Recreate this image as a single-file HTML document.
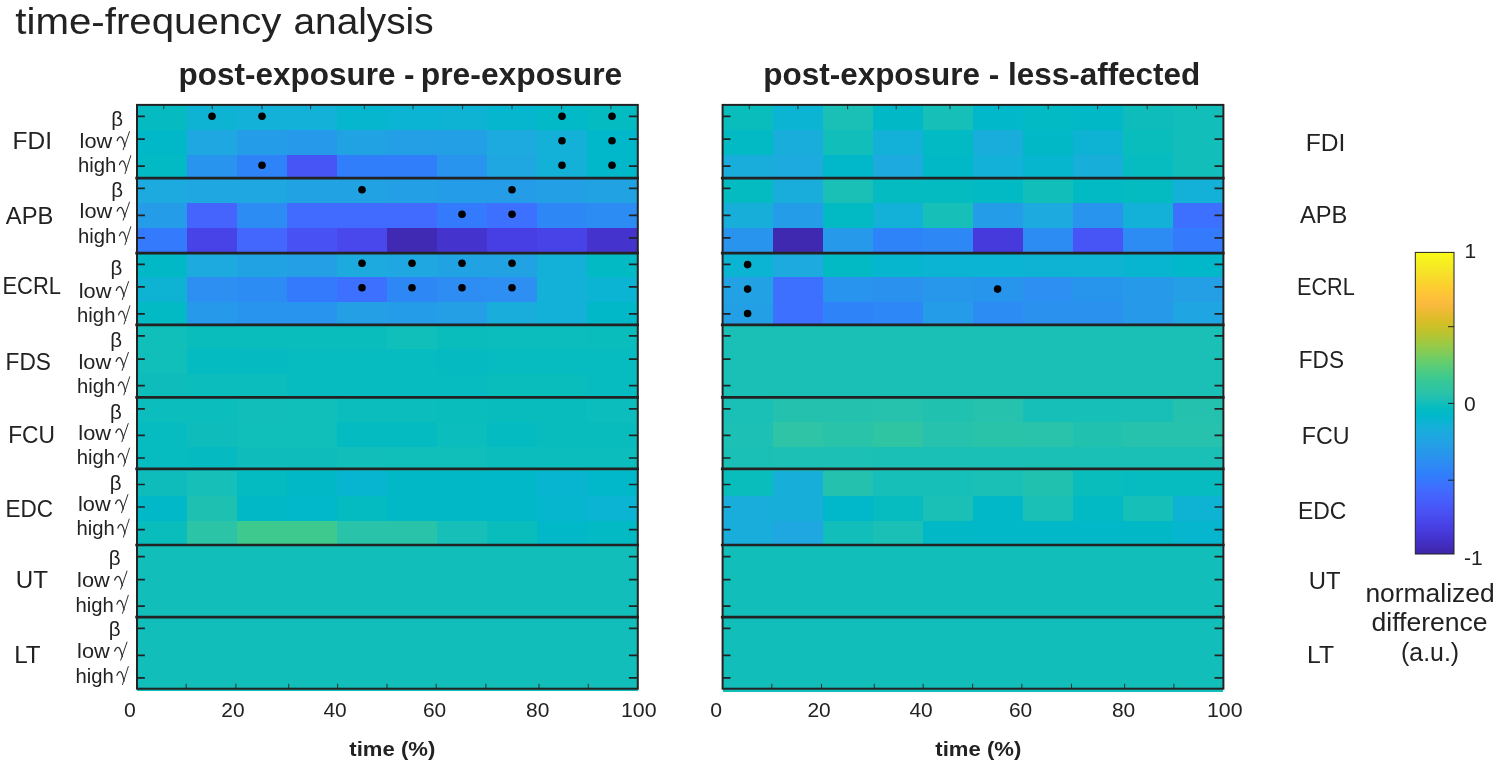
<!DOCTYPE html>
<html><head><meta charset="utf-8"><title>time-frequency analysis</title>
<style>html,body{margin:0;padding:0;background:#fff;overflow:hidden;}svg{display:block;will-change:transform;}text{font-family:"Liberation Sans",sans-serif;fill:#222222;}</style>
</head><body>
<svg width="1498" height="770" viewBox="0 0 1498 770">
<rect x="0" y="0" width="1498" height="770" fill="#ffffff"/>
<g shape-rendering="crispEdges">
<rect x="136.90" y="105.00" width="50.50" height="25.70" fill="#05bbc1"/>
<rect x="186.90" y="105.00" width="50.50" height="25.70" fill="#0eb3d4"/>
<rect x="236.90" y="105.00" width="50.50" height="25.70" fill="#13b0d7"/>
<rect x="286.90" y="105.00" width="50.50" height="25.70" fill="#13b0d7"/>
<rect x="336.90" y="105.00" width="50.50" height="25.70" fill="#05b6ce"/>
<rect x="386.90" y="105.00" width="50.50" height="25.70" fill="#0ab4d2"/>
<rect x="436.90" y="105.00" width="50.50" height="25.70" fill="#0eb3d4"/>
<rect x="486.90" y="105.00" width="50.50" height="25.70" fill="#05b6ce"/>
<rect x="536.90" y="105.00" width="50.50" height="25.70" fill="#01b9c7"/>
<rect x="586.90" y="105.00" width="50.90" height="25.70" fill="#04bbc2"/>
<rect x="136.90" y="130.20" width="50.50" height="25.00" fill="#01b8c8"/>
<rect x="186.90" y="130.20" width="50.50" height="25.00" fill="#1ea7e1"/>
<rect x="236.90" y="130.20" width="50.50" height="25.00" fill="#259ce7"/>
<rect x="286.90" y="130.20" width="50.50" height="25.00" fill="#2699ea"/>
<rect x="336.90" y="130.20" width="50.50" height="25.00" fill="#21a3e3"/>
<rect x="386.90" y="130.20" width="50.50" height="25.00" fill="#249fe6"/>
<rect x="436.90" y="130.20" width="50.50" height="25.00" fill="#23a0e5"/>
<rect x="486.90" y="130.20" width="50.50" height="25.00" fill="#1caadf"/>
<rect x="536.90" y="130.20" width="50.50" height="25.00" fill="#13b0d7"/>
<rect x="586.90" y="130.20" width="50.90" height="25.00" fill="#01b8ca"/>
<rect x="136.90" y="154.70" width="50.50" height="24.60" fill="#02bac4"/>
<rect x="186.90" y="154.70" width="50.50" height="24.60" fill="#2994ed"/>
<rect x="236.90" y="154.70" width="50.50" height="24.60" fill="#2e83f9"/>
<rect x="286.90" y="154.70" width="50.50" height="24.60" fill="#4755f6"/>
<rect x="336.90" y="154.70" width="50.50" height="24.60" fill="#317efb"/>
<rect x="386.90" y="154.70" width="50.50" height="24.60" fill="#317efb"/>
<rect x="436.90" y="154.70" width="50.50" height="24.60" fill="#2994ed"/>
<rect x="486.90" y="154.70" width="50.50" height="24.60" fill="#1ea7e1"/>
<rect x="536.90" y="154.70" width="50.50" height="24.60" fill="#13b0d7"/>
<rect x="586.90" y="154.70" width="50.90" height="24.60" fill="#01b8ca"/>
<rect x="136.90" y="178.80" width="50.50" height="24.90" fill="#1caadf"/>
<rect x="186.90" y="178.80" width="50.50" height="24.90" fill="#1ea7e1"/>
<rect x="236.90" y="178.80" width="50.50" height="24.90" fill="#1ea7e1"/>
<rect x="286.90" y="178.80" width="50.50" height="24.90" fill="#21a3e3"/>
<rect x="336.90" y="178.80" width="50.50" height="24.90" fill="#21a3e3"/>
<rect x="386.90" y="178.80" width="50.50" height="24.90" fill="#23a0e5"/>
<rect x="436.90" y="178.80" width="50.50" height="24.90" fill="#259ce7"/>
<rect x="486.90" y="178.80" width="50.50" height="24.90" fill="#259ce7"/>
<rect x="536.90" y="178.80" width="50.50" height="24.90" fill="#23a0e5"/>
<rect x="586.90" y="178.80" width="50.90" height="24.90" fill="#21a3e3"/>
<rect x="136.90" y="203.20" width="50.50" height="25.10" fill="#259ce7"/>
<rect x="186.90" y="203.20" width="50.50" height="25.10" fill="#4563fd"/>
<rect x="236.90" y="203.20" width="50.50" height="25.10" fill="#2d8cf3"/>
<rect x="286.90" y="203.20" width="50.50" height="25.10" fill="#416bfe"/>
<rect x="336.90" y="203.20" width="50.50" height="25.10" fill="#416bfe"/>
<rect x="386.90" y="203.20" width="50.50" height="25.10" fill="#416bfe"/>
<rect x="436.90" y="203.20" width="50.50" height="25.10" fill="#347afd"/>
<rect x="486.90" y="203.20" width="50.50" height="25.10" fill="#3d70ff"/>
<rect x="536.90" y="203.20" width="50.50" height="25.10" fill="#2d88f6"/>
<rect x="586.90" y="203.20" width="50.90" height="25.10" fill="#2d8cf3"/>
<rect x="136.90" y="227.80" width="50.50" height="25.50" fill="#347afd"/>
<rect x="186.90" y="227.80" width="50.50" height="25.50" fill="#4743e7"/>
<rect x="236.90" y="227.80" width="50.50" height="25.50" fill="#4367fd"/>
<rect x="286.90" y="227.80" width="50.50" height="25.50" fill="#4851f4"/>
<rect x="336.90" y="227.80" width="50.50" height="25.50" fill="#4848ec"/>
<rect x="386.90" y="227.80" width="50.50" height="25.50" fill="#402ab4"/>
<rect x="436.90" y="227.80" width="50.50" height="25.50" fill="#4433cc"/>
<rect x="486.90" y="227.80" width="50.50" height="25.50" fill="#473fe3"/>
<rect x="536.90" y="227.80" width="50.50" height="25.50" fill="#4743e7"/>
<rect x="586.90" y="227.80" width="50.90" height="25.50" fill="#4433cc"/>
<rect x="136.90" y="252.80" width="50.50" height="24.70" fill="#01b9c6"/>
<rect x="186.90" y="252.80" width="50.50" height="24.70" fill="#1caadf"/>
<rect x="236.90" y="252.80" width="50.50" height="24.70" fill="#21a3e3"/>
<rect x="286.90" y="252.80" width="50.50" height="24.70" fill="#249fe6"/>
<rect x="336.90" y="252.80" width="50.50" height="24.70" fill="#1caadf"/>
<rect x="386.90" y="252.80" width="50.50" height="24.70" fill="#1ea7e1"/>
<rect x="436.90" y="252.80" width="50.50" height="24.70" fill="#21a3e3"/>
<rect x="486.90" y="252.80" width="50.50" height="24.70" fill="#21a3e3"/>
<rect x="536.90" y="252.80" width="50.50" height="24.70" fill="#13b0d7"/>
<rect x="586.90" y="252.80" width="50.90" height="24.70" fill="#02bac4"/>
<rect x="136.90" y="277.00" width="50.50" height="25.20" fill="#0eb3d4"/>
<rect x="186.90" y="277.00" width="50.50" height="25.20" fill="#2c8ff1"/>
<rect x="236.90" y="277.00" width="50.50" height="25.20" fill="#2d8cf3"/>
<rect x="286.90" y="277.00" width="50.50" height="25.20" fill="#347afd"/>
<rect x="336.90" y="277.00" width="50.50" height="25.20" fill="#3d70ff"/>
<rect x="386.90" y="277.00" width="50.50" height="25.20" fill="#2d88f6"/>
<rect x="436.90" y="277.00" width="50.50" height="25.20" fill="#2d8df2"/>
<rect x="486.90" y="277.00" width="50.50" height="25.20" fill="#2c8ff1"/>
<rect x="536.90" y="277.00" width="50.50" height="25.20" fill="#13b0d7"/>
<rect x="586.90" y="277.00" width="50.90" height="25.20" fill="#0ab4d2"/>
<rect x="136.90" y="301.70" width="50.50" height="23.90" fill="#02bac4"/>
<rect x="186.90" y="301.70" width="50.50" height="23.90" fill="#2699ea"/>
<rect x="236.90" y="301.70" width="50.50" height="23.90" fill="#2994ed"/>
<rect x="286.90" y="301.70" width="50.50" height="23.90" fill="#2994ed"/>
<rect x="336.90" y="301.70" width="50.50" height="23.90" fill="#249fe6"/>
<rect x="386.90" y="301.70" width="50.50" height="23.90" fill="#259ce7"/>
<rect x="436.90" y="301.70" width="50.50" height="23.90" fill="#249fe6"/>
<rect x="486.90" y="301.70" width="50.50" height="23.90" fill="#19addc"/>
<rect x="536.90" y="301.70" width="50.50" height="23.90" fill="#13b0d7"/>
<rect x="586.90" y="301.70" width="50.90" height="23.90" fill="#01b8c8"/>
<rect x="136.90" y="325.10" width="50.50" height="24.80" fill="#10beba"/>
<rect x="186.90" y="325.10" width="50.50" height="24.80" fill="#0abdbd"/>
<rect x="236.90" y="325.10" width="50.50" height="24.80" fill="#0abdbd"/>
<rect x="286.90" y="325.10" width="50.50" height="24.80" fill="#0abdbd"/>
<rect x="336.90" y="325.10" width="50.50" height="24.80" fill="#0abdbd"/>
<rect x="386.90" y="325.10" width="50.50" height="24.80" fill="#10beba"/>
<rect x="436.90" y="325.10" width="50.50" height="24.80" fill="#0abdbd"/>
<rect x="486.90" y="325.10" width="50.50" height="24.80" fill="#0bbdbc"/>
<rect x="536.90" y="325.10" width="50.50" height="24.80" fill="#0bbdbc"/>
<rect x="586.90" y="325.10" width="50.90" height="24.80" fill="#0abdbd"/>
<rect x="136.90" y="349.40" width="50.50" height="24.70" fill="#10beba"/>
<rect x="186.90" y="349.40" width="50.50" height="24.70" fill="#04bbc2"/>
<rect x="236.90" y="349.40" width="50.50" height="24.70" fill="#05bbc1"/>
<rect x="286.90" y="349.40" width="50.50" height="24.70" fill="#07bcc0"/>
<rect x="336.90" y="349.40" width="50.50" height="24.70" fill="#07bcc0"/>
<rect x="386.90" y="349.40" width="50.50" height="24.70" fill="#07bcc0"/>
<rect x="436.90" y="349.40" width="50.50" height="24.70" fill="#05bbc1"/>
<rect x="486.90" y="349.40" width="50.50" height="24.70" fill="#07bcc0"/>
<rect x="536.90" y="349.40" width="50.50" height="24.70" fill="#07bcc0"/>
<rect x="586.90" y="349.40" width="50.90" height="24.70" fill="#07bcc0"/>
<rect x="136.90" y="373.60" width="50.50" height="24.70" fill="#0ebdbb"/>
<rect x="186.90" y="373.60" width="50.50" height="24.70" fill="#0bbdbc"/>
<rect x="236.90" y="373.60" width="50.50" height="24.70" fill="#0bbdbc"/>
<rect x="286.90" y="373.60" width="50.50" height="24.70" fill="#07bcc0"/>
<rect x="336.90" y="373.60" width="50.50" height="24.70" fill="#07bcc0"/>
<rect x="386.90" y="373.60" width="50.50" height="24.70" fill="#07bcc0"/>
<rect x="436.90" y="373.60" width="50.50" height="24.70" fill="#07bcc0"/>
<rect x="486.90" y="373.60" width="50.50" height="24.70" fill="#0abdbd"/>
<rect x="536.90" y="373.60" width="50.50" height="24.70" fill="#0abdbd"/>
<rect x="586.90" y="373.60" width="50.90" height="24.70" fill="#07bcc0"/>
<rect x="136.90" y="397.80" width="50.50" height="24.90" fill="#0bbdbc"/>
<rect x="186.90" y="397.80" width="50.50" height="24.90" fill="#0bbdbc"/>
<rect x="236.90" y="397.80" width="50.50" height="24.90" fill="#12beb9"/>
<rect x="286.90" y="397.80" width="50.50" height="24.90" fill="#10beba"/>
<rect x="336.90" y="397.80" width="50.50" height="24.90" fill="#0bbdbc"/>
<rect x="386.90" y="397.80" width="50.50" height="24.90" fill="#0bbdbc"/>
<rect x="436.90" y="397.80" width="50.50" height="24.90" fill="#0abdbd"/>
<rect x="486.90" y="397.80" width="50.50" height="24.90" fill="#08bcbe"/>
<rect x="536.90" y="397.80" width="50.50" height="24.90" fill="#08bcbe"/>
<rect x="586.90" y="397.80" width="50.90" height="24.90" fill="#0bbdbc"/>
<rect x="136.90" y="422.20" width="50.50" height="24.90" fill="#07bcc0"/>
<rect x="186.90" y="422.20" width="50.50" height="24.90" fill="#0ebdbb"/>
<rect x="236.90" y="422.20" width="50.50" height="24.90" fill="#10beba"/>
<rect x="286.90" y="422.20" width="50.50" height="24.90" fill="#10beba"/>
<rect x="336.90" y="422.20" width="50.50" height="24.90" fill="#04bbc2"/>
<rect x="386.90" y="422.20" width="50.50" height="24.90" fill="#04bbc2"/>
<rect x="436.90" y="422.20" width="50.50" height="24.90" fill="#0bbdbc"/>
<rect x="486.90" y="422.20" width="50.50" height="24.90" fill="#04bbc2"/>
<rect x="536.90" y="422.20" width="50.50" height="24.90" fill="#08bcbe"/>
<rect x="586.90" y="422.20" width="50.90" height="24.90" fill="#08bcbe"/>
<rect x="136.90" y="446.60" width="50.50" height="24.90" fill="#07bcc0"/>
<rect x="186.90" y="446.60" width="50.50" height="24.90" fill="#05bbc1"/>
<rect x="236.90" y="446.60" width="50.50" height="24.90" fill="#0ebdbb"/>
<rect x="286.90" y="446.60" width="50.50" height="24.90" fill="#0ebdbb"/>
<rect x="336.90" y="446.60" width="50.50" height="24.90" fill="#12beb9"/>
<rect x="386.90" y="446.60" width="50.50" height="24.90" fill="#10beba"/>
<rect x="436.90" y="446.60" width="50.50" height="24.90" fill="#10beba"/>
<rect x="486.90" y="446.60" width="50.50" height="24.90" fill="#0bbdbc"/>
<rect x="536.90" y="446.60" width="50.50" height="24.90" fill="#0bbdbc"/>
<rect x="586.90" y="446.60" width="50.90" height="24.90" fill="#0bbdbc"/>
<rect x="136.90" y="471.00" width="50.50" height="25.90" fill="#0ebdbb"/>
<rect x="186.90" y="471.00" width="50.50" height="25.90" fill="#16bfb7"/>
<rect x="236.90" y="471.00" width="50.50" height="25.90" fill="#04bbc2"/>
<rect x="286.90" y="471.00" width="50.50" height="25.90" fill="#01b9c6"/>
<rect x="336.90" y="471.00" width="50.50" height="25.90" fill="#07b5d0"/>
<rect x="386.90" y="471.00" width="50.50" height="25.90" fill="#01b9c6"/>
<rect x="436.90" y="471.00" width="50.50" height="25.90" fill="#01b9c6"/>
<rect x="486.90" y="471.00" width="50.50" height="25.90" fill="#01b8c8"/>
<rect x="536.90" y="471.00" width="50.50" height="25.90" fill="#07b5d0"/>
<rect x="586.90" y="471.00" width="50.90" height="25.90" fill="#01b8ca"/>
<rect x="136.90" y="496.40" width="50.50" height="25.50" fill="#01b8c8"/>
<rect x="186.90" y="496.40" width="50.50" height="25.50" fill="#1ec0b2"/>
<rect x="236.90" y="496.40" width="50.50" height="25.50" fill="#01b9c6"/>
<rect x="286.90" y="496.40" width="50.50" height="25.50" fill="#01b8ca"/>
<rect x="336.90" y="496.40" width="50.50" height="25.50" fill="#04bbc2"/>
<rect x="386.90" y="496.40" width="50.50" height="25.50" fill="#01b9c6"/>
<rect x="436.90" y="496.40" width="50.50" height="25.50" fill="#01b9c6"/>
<rect x="486.90" y="496.40" width="50.50" height="25.50" fill="#01b8c8"/>
<rect x="536.90" y="496.40" width="50.50" height="25.50" fill="#05b6ce"/>
<rect x="586.90" y="496.40" width="50.90" height="25.50" fill="#0ab4d2"/>
<rect x="136.90" y="521.40" width="50.50" height="24.60" fill="#0abdbd"/>
<rect x="186.90" y="521.40" width="50.50" height="24.60" fill="#2cc4a7"/>
<rect x="236.90" y="521.40" width="50.50" height="24.60" fill="#3eca8f"/>
<rect x="286.90" y="521.40" width="50.50" height="24.60" fill="#3eca8f"/>
<rect x="336.90" y="521.40" width="50.50" height="24.60" fill="#29c3a9"/>
<rect x="386.90" y="521.40" width="50.50" height="24.60" fill="#29c3a9"/>
<rect x="436.90" y="521.40" width="50.50" height="24.60" fill="#16bfb7"/>
<rect x="486.90" y="521.40" width="50.50" height="24.60" fill="#0abdbd"/>
<rect x="536.90" y="521.40" width="50.50" height="24.60" fill="#01b8c8"/>
<rect x="586.90" y="521.40" width="50.90" height="24.60" fill="#02bac4"/>
<rect x="136.90" y="545.50" width="50.50" height="24.50" fill="#12beb9"/>
<rect x="186.90" y="545.50" width="50.50" height="24.50" fill="#12beb9"/>
<rect x="236.90" y="545.50" width="50.50" height="24.50" fill="#12beb9"/>
<rect x="286.90" y="545.50" width="50.50" height="24.50" fill="#12beb9"/>
<rect x="336.90" y="545.50" width="50.50" height="24.50" fill="#12beb9"/>
<rect x="386.90" y="545.50" width="50.50" height="24.50" fill="#12beb9"/>
<rect x="436.90" y="545.50" width="50.50" height="24.50" fill="#12beb9"/>
<rect x="486.90" y="545.50" width="50.50" height="24.50" fill="#12beb9"/>
<rect x="536.90" y="545.50" width="50.50" height="24.50" fill="#12beb9"/>
<rect x="586.90" y="545.50" width="50.90" height="24.50" fill="#12beb9"/>
<rect x="136.90" y="569.50" width="50.50" height="24.50" fill="#12beb9"/>
<rect x="186.90" y="569.50" width="50.50" height="24.50" fill="#12beb9"/>
<rect x="236.90" y="569.50" width="50.50" height="24.50" fill="#12beb9"/>
<rect x="286.90" y="569.50" width="50.50" height="24.50" fill="#12beb9"/>
<rect x="336.90" y="569.50" width="50.50" height="24.50" fill="#12beb9"/>
<rect x="386.90" y="569.50" width="50.50" height="24.50" fill="#12beb9"/>
<rect x="436.90" y="569.50" width="50.50" height="24.50" fill="#12beb9"/>
<rect x="486.90" y="569.50" width="50.50" height="24.50" fill="#12beb9"/>
<rect x="536.90" y="569.50" width="50.50" height="24.50" fill="#12beb9"/>
<rect x="586.90" y="569.50" width="50.90" height="24.50" fill="#12beb9"/>
<rect x="136.90" y="593.50" width="50.50" height="24.50" fill="#12beb9"/>
<rect x="186.90" y="593.50" width="50.50" height="24.50" fill="#12beb9"/>
<rect x="236.90" y="593.50" width="50.50" height="24.50" fill="#12beb9"/>
<rect x="286.90" y="593.50" width="50.50" height="24.50" fill="#12beb9"/>
<rect x="336.90" y="593.50" width="50.50" height="24.50" fill="#12beb9"/>
<rect x="386.90" y="593.50" width="50.50" height="24.50" fill="#12beb9"/>
<rect x="436.90" y="593.50" width="50.50" height="24.50" fill="#12beb9"/>
<rect x="486.90" y="593.50" width="50.50" height="24.50" fill="#12beb9"/>
<rect x="536.90" y="593.50" width="50.50" height="24.50" fill="#12beb9"/>
<rect x="586.90" y="593.50" width="50.90" height="24.50" fill="#12beb9"/>
<rect x="136.90" y="617.50" width="50.50" height="24.50" fill="#12beb9"/>
<rect x="186.90" y="617.50" width="50.50" height="24.50" fill="#12beb9"/>
<rect x="236.90" y="617.50" width="50.50" height="24.50" fill="#12beb9"/>
<rect x="286.90" y="617.50" width="50.50" height="24.50" fill="#12beb9"/>
<rect x="336.90" y="617.50" width="50.50" height="24.50" fill="#12beb9"/>
<rect x="386.90" y="617.50" width="50.50" height="24.50" fill="#12beb9"/>
<rect x="436.90" y="617.50" width="50.50" height="24.50" fill="#12beb9"/>
<rect x="486.90" y="617.50" width="50.50" height="24.50" fill="#12beb9"/>
<rect x="536.90" y="617.50" width="50.50" height="24.50" fill="#12beb9"/>
<rect x="586.90" y="617.50" width="50.90" height="24.50" fill="#12beb9"/>
<rect x="136.90" y="641.50" width="50.50" height="24.50" fill="#12beb9"/>
<rect x="186.90" y="641.50" width="50.50" height="24.50" fill="#12beb9"/>
<rect x="236.90" y="641.50" width="50.50" height="24.50" fill="#12beb9"/>
<rect x="286.90" y="641.50" width="50.50" height="24.50" fill="#12beb9"/>
<rect x="336.90" y="641.50" width="50.50" height="24.50" fill="#12beb9"/>
<rect x="386.90" y="641.50" width="50.50" height="24.50" fill="#12beb9"/>
<rect x="436.90" y="641.50" width="50.50" height="24.50" fill="#12beb9"/>
<rect x="486.90" y="641.50" width="50.50" height="24.50" fill="#12beb9"/>
<rect x="536.90" y="641.50" width="50.50" height="24.50" fill="#12beb9"/>
<rect x="586.90" y="641.50" width="50.90" height="24.50" fill="#12beb9"/>
<rect x="136.90" y="665.50" width="50.50" height="25.00" fill="#12beb9"/>
<rect x="186.90" y="665.50" width="50.50" height="25.00" fill="#12beb9"/>
<rect x="236.90" y="665.50" width="50.50" height="25.00" fill="#12beb9"/>
<rect x="286.90" y="665.50" width="50.50" height="25.00" fill="#12beb9"/>
<rect x="336.90" y="665.50" width="50.50" height="25.00" fill="#12beb9"/>
<rect x="386.90" y="665.50" width="50.50" height="25.00" fill="#12beb9"/>
<rect x="436.90" y="665.50" width="50.50" height="25.00" fill="#12beb9"/>
<rect x="486.90" y="665.50" width="50.50" height="25.00" fill="#12beb9"/>
<rect x="536.90" y="665.50" width="50.50" height="25.00" fill="#12beb9"/>
<rect x="586.90" y="665.50" width="50.90" height="25.00" fill="#12beb9"/>
</g>
<path d="M136.9 116.4h8.0M637.8 116.4h-8.9M136.9 139.2h8.0M637.8 139.2h-8.9M136.9 166.1h8.0M637.8 166.1h-8.9M136.9 188.4h8.0M637.8 188.4h-8.9M136.9 215.3h8.0M637.8 215.3h-8.9M136.9 237.8h8.0M637.8 237.8h-8.9M136.9 264.4h8.0M637.8 264.4h-8.9M136.9 286.9h8.0M637.8 286.9h-8.9M136.9 313.9h8.0M637.8 313.9h-8.9M136.9 335.9h8.0M637.8 335.9h-8.9M136.9 359.1h8.0M637.8 359.1h-8.9M136.9 385.6h8.0M637.8 385.6h-8.9M136.9 408.8h8.0M637.8 408.8h-8.9M136.9 435.3h8.0M637.8 435.3h-8.9M136.9 458.0h8.0M637.8 458.0h-8.9M136.9 484.5h8.0M637.8 484.5h-8.9M136.9 507.0h8.0M637.8 507.0h-8.9M136.9 529.7h8.0M637.8 529.7h-8.9M136.9 556.6h8.0M637.8 556.6h-8.9M136.9 579.6h8.0M637.8 579.6h-8.9M136.9 606.1h8.0M637.8 606.1h-8.9M136.9 628.4h8.0M637.8 628.4h-8.9M136.9 655.3h8.0M637.8 655.3h-8.9M136.9 677.8h8.0M637.8 677.8h-8.9" stroke="#222222" stroke-width="1.7" fill="none"/>
<path d="M163.7 104.9v4.3M212.3 104.9v4.3M262.0 104.9v4.3M310.6 104.9v4.3M364.4 104.9v4.3M413.0 104.9v4.3M462.6 104.9v4.3M512.0 104.9v4.3M561.6 104.9v4.3M610.9 104.9v4.3M186.2 688.7v-5M235.9 688.7v-5M288.7 688.7v-5M337.6 688.7v-5M387.0 688.7v-5M436.2 688.7v-5M485.9 688.7v-5M539.0 688.7v-5M588.3 688.7v-5" stroke="#222222" stroke-width="1.05" stroke-opacity="0.85" fill="none"/>
<path d="M135.3 178.2H639.0M135.3 253.2H639.0M135.3 324.9H639.0M135.3 397.3H639.0M135.3 468.9H639.0M135.3 545.0H639.0M135.3 617.1H639.0" stroke="#222222" stroke-width="2.7" fill="none"/>
<rect x="137.0" y="104.9" width="500.8" height="583.8" fill="none" stroke="#222222" stroke-width="2.0"/>
<circle cx="212.0" cy="116.3" r="3.8" fill="#000"/>
<circle cx="262.0" cy="116.3" r="3.8" fill="#000"/>
<circle cx="562.0" cy="116.3" r="3.8" fill="#000"/>
<circle cx="612.0" cy="116.3" r="3.8" fill="#000"/>
<circle cx="562.0" cy="140.8" r="3.8" fill="#000"/>
<circle cx="612.0" cy="140.8" r="3.8" fill="#000"/>
<circle cx="262.0" cy="165.3" r="3.8" fill="#000"/>
<circle cx="562.0" cy="165.3" r="3.8" fill="#000"/>
<circle cx="612.0" cy="165.3" r="3.8" fill="#000"/>
<circle cx="362.0" cy="189.8" r="3.8" fill="#000"/>
<circle cx="512.0" cy="189.8" r="3.8" fill="#000"/>
<circle cx="462.0" cy="214.3" r="3.8" fill="#000"/>
<circle cx="512.0" cy="214.3" r="3.8" fill="#000"/>
<circle cx="362.0" cy="263.3" r="3.8" fill="#000"/>
<circle cx="412.0" cy="263.3" r="3.8" fill="#000"/>
<circle cx="462.0" cy="263.3" r="3.8" fill="#000"/>
<circle cx="512.0" cy="263.3" r="3.8" fill="#000"/>
<circle cx="362.0" cy="287.8" r="3.8" fill="#000"/>
<circle cx="412.0" cy="287.8" r="3.8" fill="#000"/>
<circle cx="462.0" cy="287.8" r="3.8" fill="#000"/>
<circle cx="512.0" cy="287.8" r="3.8" fill="#000"/>
<g shape-rendering="crispEdges">
<rect x="722.50" y="105.00" width="50.50" height="25.70" fill="#0abdbd"/>
<rect x="772.50" y="105.00" width="50.50" height="25.70" fill="#0ab4d2"/>
<rect x="822.50" y="105.00" width="50.50" height="25.70" fill="#1ac0b5"/>
<rect x="872.50" y="105.00" width="50.50" height="25.70" fill="#01b9c6"/>
<rect x="922.50" y="105.00" width="50.50" height="25.70" fill="#16bfb7"/>
<rect x="972.50" y="105.00" width="50.50" height="25.70" fill="#01b8ca"/>
<rect x="1022.50" y="105.00" width="50.50" height="25.70" fill="#02bac4"/>
<rect x="1072.50" y="105.00" width="50.50" height="25.70" fill="#01b9c6"/>
<rect x="1122.50" y="105.00" width="50.50" height="25.70" fill="#0ebdbb"/>
<rect x="1172.50" y="105.00" width="50.90" height="25.70" fill="#12beb9"/>
<rect x="722.50" y="130.20" width="50.50" height="25.00" fill="#02bac4"/>
<rect x="772.50" y="130.20" width="50.50" height="25.00" fill="#19addc"/>
<rect x="822.50" y="130.20" width="50.50" height="25.00" fill="#12beb9"/>
<rect x="872.50" y="130.20" width="50.50" height="25.00" fill="#13b0d7"/>
<rect x="922.50" y="130.20" width="50.50" height="25.00" fill="#02bac4"/>
<rect x="972.50" y="130.20" width="50.50" height="25.00" fill="#19addc"/>
<rect x="1022.50" y="130.20" width="50.50" height="25.00" fill="#01b9c6"/>
<rect x="1072.50" y="130.20" width="50.50" height="25.00" fill="#0eb3d4"/>
<rect x="1122.50" y="130.20" width="50.50" height="25.00" fill="#0abdbd"/>
<rect x="1172.50" y="130.20" width="50.90" height="25.00" fill="#12beb9"/>
<rect x="722.50" y="154.70" width="50.50" height="24.60" fill="#19addc"/>
<rect x="772.50" y="154.70" width="50.50" height="24.60" fill="#1caadf"/>
<rect x="822.50" y="154.70" width="50.50" height="24.60" fill="#01b8ca"/>
<rect x="872.50" y="154.70" width="50.50" height="24.60" fill="#1caadf"/>
<rect x="922.50" y="154.70" width="50.50" height="24.60" fill="#01b9c6"/>
<rect x="972.50" y="154.70" width="50.50" height="24.60" fill="#13b0d7"/>
<rect x="1022.50" y="154.70" width="50.50" height="24.60" fill="#05b6ce"/>
<rect x="1072.50" y="154.70" width="50.50" height="24.60" fill="#17aeda"/>
<rect x="1122.50" y="154.70" width="50.50" height="24.60" fill="#07bcc0"/>
<rect x="1172.50" y="154.70" width="50.90" height="24.60" fill="#12beb9"/>
<rect x="722.50" y="178.80" width="50.50" height="24.90" fill="#04bbc2"/>
<rect x="772.50" y="178.80" width="50.50" height="24.90" fill="#19addc"/>
<rect x="822.50" y="178.80" width="50.50" height="24.90" fill="#1ac0b5"/>
<rect x="872.50" y="178.80" width="50.50" height="24.90" fill="#04bbc2"/>
<rect x="922.50" y="178.80" width="50.50" height="24.90" fill="#04bbc2"/>
<rect x="972.50" y="178.80" width="50.50" height="24.90" fill="#02bac4"/>
<rect x="1022.50" y="178.80" width="50.50" height="24.90" fill="#12beb9"/>
<rect x="1072.50" y="178.80" width="50.50" height="24.90" fill="#02bac4"/>
<rect x="1122.50" y="178.80" width="50.50" height="24.90" fill="#04bbc2"/>
<rect x="1172.50" y="178.80" width="50.90" height="24.90" fill="#13b0d7"/>
<rect x="722.50" y="203.20" width="50.50" height="25.10" fill="#17aeda"/>
<rect x="772.50" y="203.20" width="50.50" height="25.10" fill="#259ce7"/>
<rect x="822.50" y="203.20" width="50.50" height="25.10" fill="#02bac4"/>
<rect x="872.50" y="203.20" width="50.50" height="25.10" fill="#13b0d7"/>
<rect x="922.50" y="203.20" width="50.50" height="25.10" fill="#16bfb7"/>
<rect x="972.50" y="203.20" width="50.50" height="25.10" fill="#259ce7"/>
<rect x="1022.50" y="203.20" width="50.50" height="25.10" fill="#1caadf"/>
<rect x="1072.50" y="203.20" width="50.50" height="25.10" fill="#2994ed"/>
<rect x="1122.50" y="203.20" width="50.50" height="25.10" fill="#13b0d7"/>
<rect x="1172.50" y="203.20" width="50.90" height="25.10" fill="#3d70ff"/>
<rect x="722.50" y="227.80" width="50.50" height="25.50" fill="#2994ed"/>
<rect x="772.50" y="227.80" width="50.50" height="25.50" fill="#3f29b0"/>
<rect x="822.50" y="227.80" width="50.50" height="25.50" fill="#2699ea"/>
<rect x="872.50" y="227.80" width="50.50" height="25.50" fill="#2e83f9"/>
<rect x="922.50" y="227.80" width="50.50" height="25.50" fill="#2d88f6"/>
<rect x="972.50" y="227.80" width="50.50" height="25.50" fill="#463adc"/>
<rect x="1022.50" y="227.80" width="50.50" height="25.50" fill="#2d8cf3"/>
<rect x="1072.50" y="227.80" width="50.50" height="25.50" fill="#4755f6"/>
<rect x="1122.50" y="227.80" width="50.50" height="25.50" fill="#2d8cf3"/>
<rect x="1172.50" y="227.80" width="50.90" height="25.50" fill="#347afd"/>
<rect x="722.50" y="252.80" width="50.50" height="24.70" fill="#0ab4d2"/>
<rect x="772.50" y="252.80" width="50.50" height="24.70" fill="#1caadf"/>
<rect x="822.50" y="252.80" width="50.50" height="24.70" fill="#02bac4"/>
<rect x="872.50" y="252.80" width="50.50" height="24.70" fill="#05b6ce"/>
<rect x="922.50" y="252.80" width="50.50" height="24.70" fill="#0ab4d2"/>
<rect x="972.50" y="252.80" width="50.50" height="24.70" fill="#0ab4d2"/>
<rect x="1022.50" y="252.80" width="50.50" height="24.70" fill="#0eb3d4"/>
<rect x="1072.50" y="252.80" width="50.50" height="24.70" fill="#0eb3d4"/>
<rect x="1122.50" y="252.80" width="50.50" height="24.70" fill="#07b5d0"/>
<rect x="1172.50" y="252.80" width="50.90" height="24.70" fill="#01b8ca"/>
<rect x="722.50" y="277.00" width="50.50" height="25.20" fill="#22a1e4"/>
<rect x="772.50" y="277.00" width="50.50" height="25.20" fill="#3d70ff"/>
<rect x="822.50" y="277.00" width="50.50" height="25.20" fill="#2994ed"/>
<rect x="872.50" y="277.00" width="50.50" height="25.20" fill="#2b91ef"/>
<rect x="922.50" y="277.00" width="50.50" height="25.20" fill="#2797eb"/>
<rect x="972.50" y="277.00" width="50.50" height="25.20" fill="#2895ec"/>
<rect x="1022.50" y="277.00" width="50.50" height="25.20" fill="#2c8ff1"/>
<rect x="1072.50" y="277.00" width="50.50" height="25.20" fill="#2895ec"/>
<rect x="1122.50" y="277.00" width="50.50" height="25.20" fill="#269ae8"/>
<rect x="1172.50" y="277.00" width="50.90" height="25.20" fill="#249fe6"/>
<rect x="722.50" y="301.70" width="50.50" height="23.90" fill="#23a0e5"/>
<rect x="772.50" y="301.70" width="50.50" height="23.90" fill="#3d70ff"/>
<rect x="822.50" y="301.70" width="50.50" height="23.90" fill="#2e83f9"/>
<rect x="872.50" y="301.70" width="50.50" height="23.90" fill="#2e87f7"/>
<rect x="922.50" y="301.70" width="50.50" height="23.90" fill="#259ce7"/>
<rect x="972.50" y="301.70" width="50.50" height="23.90" fill="#2d8cf3"/>
<rect x="1022.50" y="301.70" width="50.50" height="23.90" fill="#2b91ef"/>
<rect x="1072.50" y="301.70" width="50.50" height="23.90" fill="#2b91ef"/>
<rect x="1122.50" y="301.70" width="50.50" height="23.90" fill="#269ae8"/>
<rect x="1172.50" y="301.70" width="50.90" height="23.90" fill="#1fa6e2"/>
<rect x="722.50" y="325.10" width="50.50" height="24.80" fill="#1ac0b5"/>
<rect x="772.50" y="325.10" width="50.50" height="24.80" fill="#1ac0b5"/>
<rect x="822.50" y="325.10" width="50.50" height="24.80" fill="#1ac0b5"/>
<rect x="872.50" y="325.10" width="50.50" height="24.80" fill="#1ac0b5"/>
<rect x="922.50" y="325.10" width="50.50" height="24.80" fill="#1ac0b5"/>
<rect x="972.50" y="325.10" width="50.50" height="24.80" fill="#1ac0b5"/>
<rect x="1022.50" y="325.10" width="50.50" height="24.80" fill="#1ac0b5"/>
<rect x="1072.50" y="325.10" width="50.50" height="24.80" fill="#1ac0b5"/>
<rect x="1122.50" y="325.10" width="50.50" height="24.80" fill="#1ac0b5"/>
<rect x="1172.50" y="325.10" width="50.90" height="24.80" fill="#1ac0b5"/>
<rect x="722.50" y="349.40" width="50.50" height="24.70" fill="#1ac0b5"/>
<rect x="772.50" y="349.40" width="50.50" height="24.70" fill="#1ac0b5"/>
<rect x="822.50" y="349.40" width="50.50" height="24.70" fill="#1ac0b5"/>
<rect x="872.50" y="349.40" width="50.50" height="24.70" fill="#1ac0b5"/>
<rect x="922.50" y="349.40" width="50.50" height="24.70" fill="#1ac0b5"/>
<rect x="972.50" y="349.40" width="50.50" height="24.70" fill="#1ac0b5"/>
<rect x="1022.50" y="349.40" width="50.50" height="24.70" fill="#1ac0b5"/>
<rect x="1072.50" y="349.40" width="50.50" height="24.70" fill="#1ac0b5"/>
<rect x="1122.50" y="349.40" width="50.50" height="24.70" fill="#1ac0b5"/>
<rect x="1172.50" y="349.40" width="50.90" height="24.70" fill="#1ac0b5"/>
<rect x="722.50" y="373.60" width="50.50" height="24.70" fill="#1ac0b5"/>
<rect x="772.50" y="373.60" width="50.50" height="24.70" fill="#1ac0b5"/>
<rect x="822.50" y="373.60" width="50.50" height="24.70" fill="#1ac0b5"/>
<rect x="872.50" y="373.60" width="50.50" height="24.70" fill="#1ac0b5"/>
<rect x="922.50" y="373.60" width="50.50" height="24.70" fill="#1ac0b5"/>
<rect x="972.50" y="373.60" width="50.50" height="24.70" fill="#1ac0b5"/>
<rect x="1022.50" y="373.60" width="50.50" height="24.70" fill="#1ac0b5"/>
<rect x="1072.50" y="373.60" width="50.50" height="24.70" fill="#1ac0b5"/>
<rect x="1122.50" y="373.60" width="50.50" height="24.70" fill="#1ac0b5"/>
<rect x="1172.50" y="373.60" width="50.90" height="24.70" fill="#1ac0b5"/>
<rect x="722.50" y="397.80" width="50.50" height="24.90" fill="#1ac0b5"/>
<rect x="772.50" y="397.80" width="50.50" height="24.90" fill="#24c2ae"/>
<rect x="822.50" y="397.80" width="50.50" height="24.90" fill="#24c2ae"/>
<rect x="872.50" y="397.80" width="50.50" height="24.90" fill="#26c2ad"/>
<rect x="922.50" y="397.80" width="50.50" height="24.90" fill="#21c1b0"/>
<rect x="972.50" y="397.80" width="50.50" height="24.90" fill="#26c2ad"/>
<rect x="1022.50" y="397.80" width="50.50" height="24.90" fill="#16bfb7"/>
<rect x="1072.50" y="397.80" width="50.50" height="24.90" fill="#16bfb7"/>
<rect x="1122.50" y="397.80" width="50.50" height="24.90" fill="#18bfb6"/>
<rect x="1172.50" y="397.80" width="50.90" height="24.90" fill="#24c2ae"/>
<rect x="722.50" y="422.20" width="50.50" height="24.90" fill="#1cc0b4"/>
<rect x="772.50" y="422.20" width="50.50" height="24.90" fill="#2ec4a5"/>
<rect x="822.50" y="422.20" width="50.50" height="24.90" fill="#29c3a9"/>
<rect x="872.50" y="422.20" width="50.50" height="24.90" fill="#2fc5a2"/>
<rect x="922.50" y="422.20" width="50.50" height="24.90" fill="#26c2ad"/>
<rect x="972.50" y="422.20" width="50.50" height="24.90" fill="#29c3a9"/>
<rect x="1022.50" y="422.20" width="50.50" height="24.90" fill="#28c3aa"/>
<rect x="1072.50" y="422.20" width="50.50" height="24.90" fill="#21c1b0"/>
<rect x="1122.50" y="422.20" width="50.50" height="24.90" fill="#26c2ad"/>
<rect x="1172.50" y="422.20" width="50.90" height="24.90" fill="#26c2ad"/>
<rect x="722.50" y="446.60" width="50.50" height="24.90" fill="#1ac0b5"/>
<rect x="772.50" y="446.60" width="50.50" height="24.90" fill="#1cc0b4"/>
<rect x="822.50" y="446.60" width="50.50" height="24.90" fill="#1cc0b4"/>
<rect x="872.50" y="446.60" width="50.50" height="24.90" fill="#1ac0b5"/>
<rect x="922.50" y="446.60" width="50.50" height="24.90" fill="#1ac0b5"/>
<rect x="972.50" y="446.60" width="50.50" height="24.90" fill="#1ac0b5"/>
<rect x="1022.50" y="446.60" width="50.50" height="24.90" fill="#1ac0b5"/>
<rect x="1072.50" y="446.60" width="50.50" height="24.90" fill="#1ac0b5"/>
<rect x="1122.50" y="446.60" width="50.50" height="24.90" fill="#1ac0b5"/>
<rect x="1172.50" y="446.60" width="50.90" height="24.90" fill="#1ac0b5"/>
<rect x="722.50" y="471.00" width="50.50" height="25.90" fill="#0abdbd"/>
<rect x="772.50" y="471.00" width="50.50" height="25.90" fill="#17aeda"/>
<rect x="822.50" y="471.00" width="50.50" height="25.90" fill="#24c2ae"/>
<rect x="872.50" y="471.00" width="50.50" height="25.90" fill="#16bfb7"/>
<rect x="922.50" y="471.00" width="50.50" height="25.90" fill="#16bfb7"/>
<rect x="972.50" y="471.00" width="50.50" height="25.90" fill="#1ac0b5"/>
<rect x="1022.50" y="471.00" width="50.50" height="25.90" fill="#21c1b0"/>
<rect x="1072.50" y="471.00" width="50.50" height="25.90" fill="#0abdbd"/>
<rect x="1122.50" y="471.00" width="50.50" height="25.90" fill="#07bcc0"/>
<rect x="1172.50" y="471.00" width="50.90" height="25.90" fill="#07bcc0"/>
<rect x="722.50" y="496.40" width="50.50" height="25.50" fill="#19addc"/>
<rect x="772.50" y="496.40" width="50.50" height="25.50" fill="#17aeda"/>
<rect x="822.50" y="496.40" width="50.50" height="25.50" fill="#01b8ca"/>
<rect x="872.50" y="496.40" width="50.50" height="25.50" fill="#07bcc0"/>
<rect x="922.50" y="496.40" width="50.50" height="25.50" fill="#1ac0b5"/>
<rect x="972.50" y="496.40" width="50.50" height="25.50" fill="#01b8c8"/>
<rect x="1022.50" y="496.40" width="50.50" height="25.50" fill="#1ac0b5"/>
<rect x="1072.50" y="496.40" width="50.50" height="25.50" fill="#02bac4"/>
<rect x="1122.50" y="496.40" width="50.50" height="25.50" fill="#16bfb7"/>
<rect x="1172.50" y="496.40" width="50.90" height="25.50" fill="#0eb3d4"/>
<rect x="722.50" y="521.40" width="50.50" height="24.60" fill="#19addc"/>
<rect x="772.50" y="521.40" width="50.50" height="24.60" fill="#1ea7e1"/>
<rect x="822.50" y="521.40" width="50.50" height="24.60" fill="#12beb9"/>
<rect x="872.50" y="521.40" width="50.50" height="24.60" fill="#1ac0b5"/>
<rect x="922.50" y="521.40" width="50.50" height="24.60" fill="#01b9c6"/>
<rect x="972.50" y="521.40" width="50.50" height="24.60" fill="#01b8c8"/>
<rect x="1022.50" y="521.40" width="50.50" height="24.60" fill="#01b8c8"/>
<rect x="1072.50" y="521.40" width="50.50" height="24.60" fill="#01b8c8"/>
<rect x="1122.50" y="521.40" width="50.50" height="24.60" fill="#01b9c6"/>
<rect x="1172.50" y="521.40" width="50.90" height="24.60" fill="#05b6ce"/>
<rect x="722.50" y="545.50" width="50.50" height="24.50" fill="#12beb9"/>
<rect x="772.50" y="545.50" width="50.50" height="24.50" fill="#12beb9"/>
<rect x="822.50" y="545.50" width="50.50" height="24.50" fill="#12beb9"/>
<rect x="872.50" y="545.50" width="50.50" height="24.50" fill="#12beb9"/>
<rect x="922.50" y="545.50" width="50.50" height="24.50" fill="#12beb9"/>
<rect x="972.50" y="545.50" width="50.50" height="24.50" fill="#12beb9"/>
<rect x="1022.50" y="545.50" width="50.50" height="24.50" fill="#12beb9"/>
<rect x="1072.50" y="545.50" width="50.50" height="24.50" fill="#12beb9"/>
<rect x="1122.50" y="545.50" width="50.50" height="24.50" fill="#12beb9"/>
<rect x="1172.50" y="545.50" width="50.90" height="24.50" fill="#12beb9"/>
<rect x="722.50" y="569.50" width="50.50" height="24.50" fill="#12beb9"/>
<rect x="772.50" y="569.50" width="50.50" height="24.50" fill="#12beb9"/>
<rect x="822.50" y="569.50" width="50.50" height="24.50" fill="#12beb9"/>
<rect x="872.50" y="569.50" width="50.50" height="24.50" fill="#12beb9"/>
<rect x="922.50" y="569.50" width="50.50" height="24.50" fill="#12beb9"/>
<rect x="972.50" y="569.50" width="50.50" height="24.50" fill="#12beb9"/>
<rect x="1022.50" y="569.50" width="50.50" height="24.50" fill="#12beb9"/>
<rect x="1072.50" y="569.50" width="50.50" height="24.50" fill="#12beb9"/>
<rect x="1122.50" y="569.50" width="50.50" height="24.50" fill="#12beb9"/>
<rect x="1172.50" y="569.50" width="50.90" height="24.50" fill="#12beb9"/>
<rect x="722.50" y="593.50" width="50.50" height="24.50" fill="#12beb9"/>
<rect x="772.50" y="593.50" width="50.50" height="24.50" fill="#12beb9"/>
<rect x="822.50" y="593.50" width="50.50" height="24.50" fill="#12beb9"/>
<rect x="872.50" y="593.50" width="50.50" height="24.50" fill="#12beb9"/>
<rect x="922.50" y="593.50" width="50.50" height="24.50" fill="#12beb9"/>
<rect x="972.50" y="593.50" width="50.50" height="24.50" fill="#12beb9"/>
<rect x="1022.50" y="593.50" width="50.50" height="24.50" fill="#12beb9"/>
<rect x="1072.50" y="593.50" width="50.50" height="24.50" fill="#12beb9"/>
<rect x="1122.50" y="593.50" width="50.50" height="24.50" fill="#12beb9"/>
<rect x="1172.50" y="593.50" width="50.90" height="24.50" fill="#12beb9"/>
<rect x="722.50" y="617.50" width="50.50" height="24.50" fill="#12beb9"/>
<rect x="772.50" y="617.50" width="50.50" height="24.50" fill="#12beb9"/>
<rect x="822.50" y="617.50" width="50.50" height="24.50" fill="#12beb9"/>
<rect x="872.50" y="617.50" width="50.50" height="24.50" fill="#12beb9"/>
<rect x="922.50" y="617.50" width="50.50" height="24.50" fill="#12beb9"/>
<rect x="972.50" y="617.50" width="50.50" height="24.50" fill="#12beb9"/>
<rect x="1022.50" y="617.50" width="50.50" height="24.50" fill="#12beb9"/>
<rect x="1072.50" y="617.50" width="50.50" height="24.50" fill="#12beb9"/>
<rect x="1122.50" y="617.50" width="50.50" height="24.50" fill="#12beb9"/>
<rect x="1172.50" y="617.50" width="50.90" height="24.50" fill="#12beb9"/>
<rect x="722.50" y="641.50" width="50.50" height="24.50" fill="#12beb9"/>
<rect x="772.50" y="641.50" width="50.50" height="24.50" fill="#12beb9"/>
<rect x="822.50" y="641.50" width="50.50" height="24.50" fill="#12beb9"/>
<rect x="872.50" y="641.50" width="50.50" height="24.50" fill="#12beb9"/>
<rect x="922.50" y="641.50" width="50.50" height="24.50" fill="#12beb9"/>
<rect x="972.50" y="641.50" width="50.50" height="24.50" fill="#12beb9"/>
<rect x="1022.50" y="641.50" width="50.50" height="24.50" fill="#12beb9"/>
<rect x="1072.50" y="641.50" width="50.50" height="24.50" fill="#12beb9"/>
<rect x="1122.50" y="641.50" width="50.50" height="24.50" fill="#12beb9"/>
<rect x="1172.50" y="641.50" width="50.90" height="24.50" fill="#12beb9"/>
<rect x="722.50" y="665.50" width="50.50" height="26.70" fill="#12beb9"/>
<rect x="772.50" y="665.50" width="50.50" height="26.70" fill="#12beb9"/>
<rect x="822.50" y="665.50" width="50.50" height="26.70" fill="#12beb9"/>
<rect x="872.50" y="665.50" width="50.50" height="26.70" fill="#12beb9"/>
<rect x="922.50" y="665.50" width="50.50" height="26.70" fill="#12beb9"/>
<rect x="972.50" y="665.50" width="50.50" height="26.70" fill="#12beb9"/>
<rect x="1022.50" y="665.50" width="50.50" height="26.70" fill="#12beb9"/>
<rect x="1072.50" y="665.50" width="50.50" height="26.70" fill="#12beb9"/>
<rect x="1122.50" y="665.50" width="50.50" height="26.70" fill="#12beb9"/>
<rect x="1172.50" y="665.50" width="50.90" height="26.70" fill="#12beb9"/>
</g>
<path d="M722.5 116.4h8.0M1223.4 116.4h-8.9M722.5 139.2h8.0M1223.4 139.2h-8.9M722.5 166.1h8.0M1223.4 166.1h-8.9M722.5 188.4h8.0M1223.4 188.4h-8.9M722.5 215.3h8.0M1223.4 215.3h-8.9M722.5 237.8h8.0M1223.4 237.8h-8.9M722.5 264.4h8.0M1223.4 264.4h-8.9M722.5 286.9h8.0M1223.4 286.9h-8.9M722.5 313.9h8.0M1223.4 313.9h-8.9M722.5 335.9h8.0M1223.4 335.9h-8.9M722.5 359.1h8.0M1223.4 359.1h-8.9M722.5 385.6h8.0M1223.4 385.6h-8.9M722.5 408.8h8.0M1223.4 408.8h-8.9M722.5 435.3h8.0M1223.4 435.3h-8.9M722.5 458.0h8.0M1223.4 458.0h-8.9M722.5 484.5h8.0M1223.4 484.5h-8.9M722.5 507.0h8.0M1223.4 507.0h-8.9M722.5 529.7h8.0M1223.4 529.7h-8.9M722.5 556.6h8.0M1223.4 556.6h-8.9M722.5 579.6h8.0M1223.4 579.6h-8.9M722.5 606.1h8.0M1223.4 606.1h-8.9M722.5 628.4h8.0M1223.4 628.4h-8.9M722.5 655.3h8.0M1223.4 655.3h-8.9M722.5 677.8h8.0M1223.4 677.8h-8.9" stroke="#222222" stroke-width="1.7" fill="none"/>
<path d="M749.3 104.9v4.3M797.9 104.9v4.3M847.6 104.9v4.3M896.2 104.9v4.3M950.0 104.9v4.3M998.6 104.9v4.3M1048.2 104.9v4.3M1097.6 104.9v4.3M1147.2 104.9v4.3M1196.5 104.9v4.3M771.8 688.7v-5M821.5 688.7v-5M874.3 688.7v-5M923.2 688.7v-5M972.6 688.7v-5M1021.8 688.7v-5M1071.5 688.7v-5M1124.6 688.7v-5M1173.9 688.7v-5" stroke="#222222" stroke-width="1.05" stroke-opacity="0.85" fill="none"/>
<path d="M720.9 178.2H1224.6M720.9 253.2H1224.6M720.9 324.9H1224.6M720.9 397.3H1224.6M720.9 468.9H1224.6M720.9 545.0H1224.6M720.9 617.1H1224.6" stroke="#222222" stroke-width="2.7" fill="none"/>
<rect x="722.6" y="104.9" width="500.8" height="583.8" fill="none" stroke="#222222" stroke-width="2.0"/>
<circle cx="747.6" cy="264.6" r="3.8" fill="#000"/>
<circle cx="747.6" cy="289.1" r="3.8" fill="#000"/>
<circle cx="747.6" cy="313.5" r="3.8" fill="#000"/>
<circle cx="997.6" cy="289.1" r="3.8" fill="#000"/>
<text x="15.3" y="33.6" font-size="36" textLength="266.2" lengthAdjust="spacingAndGlyphs" fill="#2a2a2a">time-frequency</text>
<text x="293.5" y="33.6" font-size="36" textLength="140.1" lengthAdjust="spacingAndGlyphs" fill="#2a2a2a">analysis</text>
<text x="178.6" y="85.0" font-size="31.5" font-weight="bold" textLength="236.0" lengthAdjust="spacingAndGlyphs">post-exposure -</text>
<text x="420.8" y="85.0" font-size="31.5" font-weight="bold" textLength="201.5" lengthAdjust="spacingAndGlyphs">pre-exposure</text>
<text x="763.3" y="85.0" font-size="31.5" font-weight="bold" textLength="437.0" lengthAdjust="spacingAndGlyphs">post-exposure - less-affected</text>
<text x="12.6" y="148.8" font-size="23.5" textLength="39.4" lengthAdjust="spacingAndGlyphs">FDI</text>
<text x="5.8" y="223.6" font-size="23.5" textLength="47.6" lengthAdjust="spacingAndGlyphs">APB</text>
<text x="2.4" y="293.8" font-size="23.5" textLength="58.6" lengthAdjust="spacingAndGlyphs">ECRL</text>
<text x="5.6" y="369.9" font-size="23.5" textLength="45.4" lengthAdjust="spacingAndGlyphs">FDS</text>
<text x="8.2" y="442.6" font-size="23.5" textLength="46.8" lengthAdjust="spacingAndGlyphs">FCU</text>
<text x="5.4" y="517.2" font-size="23.5" textLength="47.6" lengthAdjust="spacingAndGlyphs">EDC</text>
<text x="15.8" y="587.9" font-size="23.5" textLength="32.2" lengthAdjust="spacingAndGlyphs">UT</text>
<text x="14.2" y="663.0" font-size="23.5" textLength="26.4" lengthAdjust="spacingAndGlyphs">LT</text>
<text x="1305.8" y="150.6" font-size="23.5" textLength="39.6" lengthAdjust="spacingAndGlyphs">FDI</text>
<text x="1300.0" y="222.7" font-size="23.5" textLength="47.4" lengthAdjust="spacingAndGlyphs">APB</text>
<text x="1297.0" y="294.8" font-size="23.5" textLength="57.8" lengthAdjust="spacingAndGlyphs">ECRL</text>
<text x="1298.8" y="368.0" font-size="23.5" textLength="45.2" lengthAdjust="spacingAndGlyphs">FDS</text>
<text x="1301.8" y="444.4" font-size="23.5" textLength="47.8" lengthAdjust="spacingAndGlyphs">FCU</text>
<text x="1298.0" y="519.4" font-size="23.5" textLength="48.4" lengthAdjust="spacingAndGlyphs">EDC</text>
<text x="1308.8" y="589.1" font-size="23.5" textLength="31.8" lengthAdjust="spacingAndGlyphs">UT</text>
<text x="1307.0" y="662.5" font-size="23.5" textLength="27.0" lengthAdjust="spacingAndGlyphs">LT</text>
<text x="111.3" y="125.9" font-size="20.5">β</text>
<text x="79.6" y="147.8" font-size="20" textLength="32.7" lengthAdjust="spacingAndGlyphs">low</text>
<g transform="translate(116.9 131.5) scale(1.000 1.000)" stroke="#2e2e2e" fill="none" stroke-linecap="round"><path d="M0.3 9C1 6.3 3 4.5 4.6 5.7C6.2 7.1 7.2 11.5 8 14.6" stroke-width="1.3"/><path d="M12.6 0.1L6.3 18.2" stroke-width="1.0"/></g>
<text x="78.0" y="171.8" font-size="20" textLength="38.3" lengthAdjust="spacingAndGlyphs">high</text>
<g transform="translate(119.2 155.5) scale(0.920 1.000)" stroke="#2e2e2e" fill="none" stroke-linecap="round"><path d="M0.3 9C1 6.3 3 4.5 4.6 5.7C6.2 7.1 7.2 11.5 8 14.6" stroke-width="1.3"/><path d="M12.6 0.1L6.3 18.2" stroke-width="1.0"/></g>
<text x="111.3" y="196.7" font-size="20.5">β</text>
<text x="79.6" y="218.3" font-size="20" textLength="32.7" lengthAdjust="spacingAndGlyphs">low</text>
<g transform="translate(116.9 202.0) scale(1.000 1.000)" stroke="#2e2e2e" fill="none" stroke-linecap="round"><path d="M0.3 9C1 6.3 3 4.5 4.6 5.7C6.2 7.1 7.2 11.5 8 14.6" stroke-width="1.3"/><path d="M12.6 0.1L6.3 18.2" stroke-width="1.0"/></g>
<text x="78.0" y="242.9" font-size="20" textLength="38.3" lengthAdjust="spacingAndGlyphs">high</text>
<g transform="translate(119.2 226.6) scale(0.920 1.000)" stroke="#2e2e2e" fill="none" stroke-linecap="round"><path d="M0.3 9C1 6.3 3 4.5 4.6 5.7C6.2 7.1 7.2 11.5 8 14.6" stroke-width="1.3"/><path d="M12.6 0.1L6.3 18.2" stroke-width="1.0"/></g>
<text x="110.4" y="275.3" font-size="20.5">β</text>
<text x="78.7" y="297.7" font-size="20" textLength="32.7" lengthAdjust="spacingAndGlyphs">low</text>
<g transform="translate(116.0 281.4) scale(1.000 1.000)" stroke="#2e2e2e" fill="none" stroke-linecap="round"><path d="M0.3 9C1 6.3 3 4.5 4.6 5.7C6.2 7.1 7.2 11.5 8 14.6" stroke-width="1.3"/><path d="M12.6 0.1L6.3 18.2" stroke-width="1.0"/></g>
<text x="77.1" y="322.1" font-size="20" textLength="38.3" lengthAdjust="spacingAndGlyphs">high</text>
<g transform="translate(118.3 305.8) scale(0.920 1.000)" stroke="#2e2e2e" fill="none" stroke-linecap="round"><path d="M0.3 9C1 6.3 3 4.5 4.6 5.7C6.2 7.1 7.2 11.5 8 14.6" stroke-width="1.3"/><path d="M12.6 0.1L6.3 18.2" stroke-width="1.0"/></g>
<text x="110.2" y="346.6" font-size="20.5">β</text>
<text x="78.5" y="368.6" font-size="20" textLength="32.7" lengthAdjust="spacingAndGlyphs">low</text>
<g transform="translate(115.8 352.3) scale(1.000 1.000)" stroke="#2e2e2e" fill="none" stroke-linecap="round"><path d="M0.3 9C1 6.3 3 4.5 4.6 5.7C6.2 7.1 7.2 11.5 8 14.6" stroke-width="1.3"/><path d="M12.6 0.1L6.3 18.2" stroke-width="1.0"/></g>
<text x="76.9" y="393.0" font-size="20" textLength="38.3" lengthAdjust="spacingAndGlyphs">high</text>
<g transform="translate(118.1 376.7) scale(0.920 1.000)" stroke="#2e2e2e" fill="none" stroke-linecap="round"><path d="M0.3 9C1 6.3 3 4.5 4.6 5.7C6.2 7.1 7.2 11.5 8 14.6" stroke-width="1.3"/><path d="M12.6 0.1L6.3 18.2" stroke-width="1.0"/></g>
<text x="110.0" y="418.6" font-size="20.5">β</text>
<text x="78.3" y="439.8" font-size="20" textLength="32.7" lengthAdjust="spacingAndGlyphs">low</text>
<g transform="translate(115.6 423.5) scale(1.000 1.000)" stroke="#2e2e2e" fill="none" stroke-linecap="round"><path d="M0.3 9C1 6.3 3 4.5 4.6 5.7C6.2 7.1 7.2 11.5 8 14.6" stroke-width="1.3"/><path d="M12.6 0.1L6.3 18.2" stroke-width="1.0"/></g>
<text x="76.7" y="464.3" font-size="20" textLength="38.3" lengthAdjust="spacingAndGlyphs">high</text>
<g transform="translate(117.9 448.0) scale(0.920 1.000)" stroke="#2e2e2e" fill="none" stroke-linecap="round"><path d="M0.3 9C1 6.3 3 4.5 4.6 5.7C6.2 7.1 7.2 11.5 8 14.6" stroke-width="1.3"/><path d="M12.6 0.1L6.3 18.2" stroke-width="1.0"/></g>
<text x="109.7" y="489.8" font-size="20.5">β</text>
<text x="78.0" y="510.8" font-size="20" textLength="32.7" lengthAdjust="spacingAndGlyphs">low</text>
<g transform="translate(115.3 494.5) scale(1.000 1.000)" stroke="#2e2e2e" fill="none" stroke-linecap="round"><path d="M0.3 9C1 6.3 3 4.5 4.6 5.7C6.2 7.1 7.2 11.5 8 14.6" stroke-width="1.3"/><path d="M12.6 0.1L6.3 18.2" stroke-width="1.0"/></g>
<text x="76.4" y="535.3" font-size="20" textLength="38.3" lengthAdjust="spacingAndGlyphs">high</text>
<g transform="translate(117.6 519.0) scale(0.920 1.000)" stroke="#2e2e2e" fill="none" stroke-linecap="round"><path d="M0.3 9C1 6.3 3 4.5 4.6 5.7C6.2 7.1 7.2 11.5 8 14.6" stroke-width="1.3"/><path d="M12.6 0.1L6.3 18.2" stroke-width="1.0"/></g>
<text x="108.8" y="564.8" font-size="20.5">β</text>
<text x="77.1" y="587.3" font-size="20" textLength="32.7" lengthAdjust="spacingAndGlyphs">low</text>
<g transform="translate(114.4 571.0) scale(1.000 1.000)" stroke="#2e2e2e" fill="none" stroke-linecap="round"><path d="M0.3 9C1 6.3 3 4.5 4.6 5.7C6.2 7.1 7.2 11.5 8 14.6" stroke-width="1.3"/><path d="M12.6 0.1L6.3 18.2" stroke-width="1.0"/></g>
<text x="75.5" y="611.5" font-size="20" textLength="38.3" lengthAdjust="spacingAndGlyphs">high</text>
<g transform="translate(116.7 595.2) scale(0.920 1.000)" stroke="#2e2e2e" fill="none" stroke-linecap="round"><path d="M0.3 9C1 6.3 3 4.5 4.6 5.7C6.2 7.1 7.2 11.5 8 14.6" stroke-width="1.3"/><path d="M12.6 0.1L6.3 18.2" stroke-width="1.0"/></g>
<text x="108.8" y="636.3" font-size="20.5">β</text>
<text x="77.1" y="658.3" font-size="20" textLength="32.7" lengthAdjust="spacingAndGlyphs">low</text>
<g transform="translate(114.4 642.0) scale(1.000 1.000)" stroke="#2e2e2e" fill="none" stroke-linecap="round"><path d="M0.3 9C1 6.3 3 4.5 4.6 5.7C6.2 7.1 7.2 11.5 8 14.6" stroke-width="1.3"/><path d="M12.6 0.1L6.3 18.2" stroke-width="1.0"/></g>
<text x="75.5" y="682.7" font-size="20" textLength="38.3" lengthAdjust="spacingAndGlyphs">high</text>
<g transform="translate(116.7 666.4) scale(0.920 1.000)" stroke="#2e2e2e" fill="none" stroke-linecap="round"><path d="M0.3 9C1 6.3 3 4.5 4.6 5.7C6.2 7.1 7.2 11.5 8 14.6" stroke-width="1.3"/><path d="M12.6 0.1L6.3 18.2" stroke-width="1.0"/></g>
<text x="124.1" y="716.8" font-size="19.5" textLength="11.8" lengthAdjust="spacingAndGlyphs">0</text>
<text x="221.3" y="716.8" font-size="19.5" textLength="23.3" lengthAdjust="spacingAndGlyphs">20</text>
<text x="323.4" y="716.8" font-size="19.5" textLength="23.3" lengthAdjust="spacingAndGlyphs">40</text>
<text x="422.9" y="716.8" font-size="19.5" textLength="23.3" lengthAdjust="spacingAndGlyphs">60</text>
<text x="526.0" y="716.8" font-size="19.5" textLength="23.3" lengthAdjust="spacingAndGlyphs">80</text>
<text x="621.0" y="716.8" font-size="19.5" textLength="35.6" lengthAdjust="spacingAndGlyphs">100</text>
<text x="710.3" y="716.8" font-size="19.5" textLength="11.8" lengthAdjust="spacingAndGlyphs">0</text>
<text x="807.4" y="716.8" font-size="19.5" textLength="23.3" lengthAdjust="spacingAndGlyphs">20</text>
<text x="909.4" y="716.8" font-size="19.5" textLength="23.3" lengthAdjust="spacingAndGlyphs">40</text>
<text x="1008.9" y="716.8" font-size="19.5" textLength="23.3" lengthAdjust="spacingAndGlyphs">60</text>
<text x="1111.9" y="716.8" font-size="19.5" textLength="23.3" lengthAdjust="spacingAndGlyphs">80</text>
<text x="1207.0" y="716.8" font-size="19.5" textLength="35.6" lengthAdjust="spacingAndGlyphs">100</text>
<text x="349.3" y="756.2" font-size="20.5" font-weight="bold" textLength="86.0" lengthAdjust="spacingAndGlyphs">time (%)</text>
<text x="935.3" y="756.2" font-size="20.5" font-weight="bold" textLength="86.0" lengthAdjust="spacingAndGlyphs">time (%)</text>
<defs><linearGradient id="cb" x1="0" y1="1" x2="0" y2="0">
<stop offset="0.0000" stop-color="#3e26a8"/>
<stop offset="0.0159" stop-color="#402ab4"/>
<stop offset="0.0317" stop-color="#422ec0"/>
<stop offset="0.0476" stop-color="#4332cb"/>
<stop offset="0.0635" stop-color="#4537d5"/>
<stop offset="0.0794" stop-color="#463cde"/>
<stop offset="0.0952" stop-color="#4741e5"/>
<stop offset="0.1111" stop-color="#4747eb"/>
<stop offset="0.1270" stop-color="#484df0"/>
<stop offset="0.1429" stop-color="#4852f4"/>
<stop offset="0.1587" stop-color="#4758f8"/>
<stop offset="0.1746" stop-color="#465efb"/>
<stop offset="0.1905" stop-color="#4563fd"/>
<stop offset="0.2063" stop-color="#4269fe"/>
<stop offset="0.2222" stop-color="#3e6fff"/>
<stop offset="0.2381" stop-color="#3875fe"/>
<stop offset="0.2540" stop-color="#327cfc"/>
<stop offset="0.2698" stop-color="#2f81fa"/>
<stop offset="0.2857" stop-color="#2e87f7"/>
<stop offset="0.3016" stop-color="#2d8cf3"/>
<stop offset="0.3175" stop-color="#2b91ef"/>
<stop offset="0.3333" stop-color="#2797eb"/>
<stop offset="0.3492" stop-color="#259be8"/>
<stop offset="0.3651" stop-color="#23a0e5"/>
<stop offset="0.3810" stop-color="#20a5e3"/>
<stop offset="0.3968" stop-color="#1ca9df"/>
<stop offset="0.4127" stop-color="#18addb"/>
<stop offset="0.4286" stop-color="#12b1d6"/>
<stop offset="0.4444" stop-color="#08b5d0"/>
<stop offset="0.4603" stop-color="#01b8ca"/>
<stop offset="0.4762" stop-color="#02bac3"/>
<stop offset="0.4921" stop-color="#0bbdbd"/>
<stop offset="0.5079" stop-color="#19bfb6"/>
<stop offset="0.5238" stop-color="#24c1ae"/>
<stop offset="0.5397" stop-color="#2cc4a7"/>
<stop offset="0.5556" stop-color="#31c69f"/>
<stop offset="0.5714" stop-color="#37c897"/>
<stop offset="0.5873" stop-color="#3fca8e"/>
<stop offset="0.6032" stop-color="#4acb84"/>
<stop offset="0.6190" stop-color="#57cc7a"/>
<stop offset="0.6349" stop-color="#64cd6f"/>
<stop offset="0.6508" stop-color="#72cd64"/>
<stop offset="0.6667" stop-color="#81cc59"/>
<stop offset="0.6825" stop-color="#8fcb4e"/>
<stop offset="0.6984" stop-color="#9dc943"/>
<stop offset="0.7143" stop-color="#abc739"/>
<stop offset="0.7302" stop-color="#b9c431"/>
<stop offset="0.7460" stop-color="#c5c22a"/>
<stop offset="0.7619" stop-color="#d1bf27"/>
<stop offset="0.7778" stop-color="#dcbd29"/>
<stop offset="0.7937" stop-color="#e6bb2d"/>
<stop offset="0.8095" stop-color="#f0ba36"/>
<stop offset="0.8254" stop-color="#f8ba3d"/>
<stop offset="0.8413" stop-color="#febe3c"/>
<stop offset="0.8571" stop-color="#fec338"/>
<stop offset="0.8730" stop-color="#fec934"/>
<stop offset="0.8889" stop-color="#fccf30"/>
<stop offset="0.9048" stop-color="#fad62d"/>
<stop offset="0.9206" stop-color="#f7dc2a"/>
<stop offset="0.9365" stop-color="#f5e327"/>
<stop offset="0.9524" stop-color="#f5e924"/>
<stop offset="0.9683" stop-color="#f6ef20"/>
<stop offset="0.9841" stop-color="#f7f51b"/>
<stop offset="1.0000" stop-color="#f9fb15"/>
</linearGradient></defs>
<rect x="1415.3" y="252.4" width="38.7" height="301.6" fill="url(#cb)" stroke="#222222" stroke-width="1"/>
<path d="M1454 326.7h-6M1454 403.4h-6M1454 480.2h-6" stroke="#222222" stroke-width="1" fill="none"/>
<text x="1464.5" y="257.9" font-size="21">1</text>
<text x="1464.0" y="411.0" font-size="21">0</text>
<text x="1464.0" y="565.0" font-size="21">-1</text>
<text x="1365.4" y="601.7" font-size="25.2" textLength="129.2" lengthAdjust="spacingAndGlyphs">normalized</text>
<text x="1371.5" y="630.7" font-size="25.2" textLength="116.1" lengthAdjust="spacingAndGlyphs">difference</text>
<text x="1401.1" y="660.7" font-size="25.2" textLength="58.0" lengthAdjust="spacingAndGlyphs">(a.u.)</text>
</svg></body></html>
